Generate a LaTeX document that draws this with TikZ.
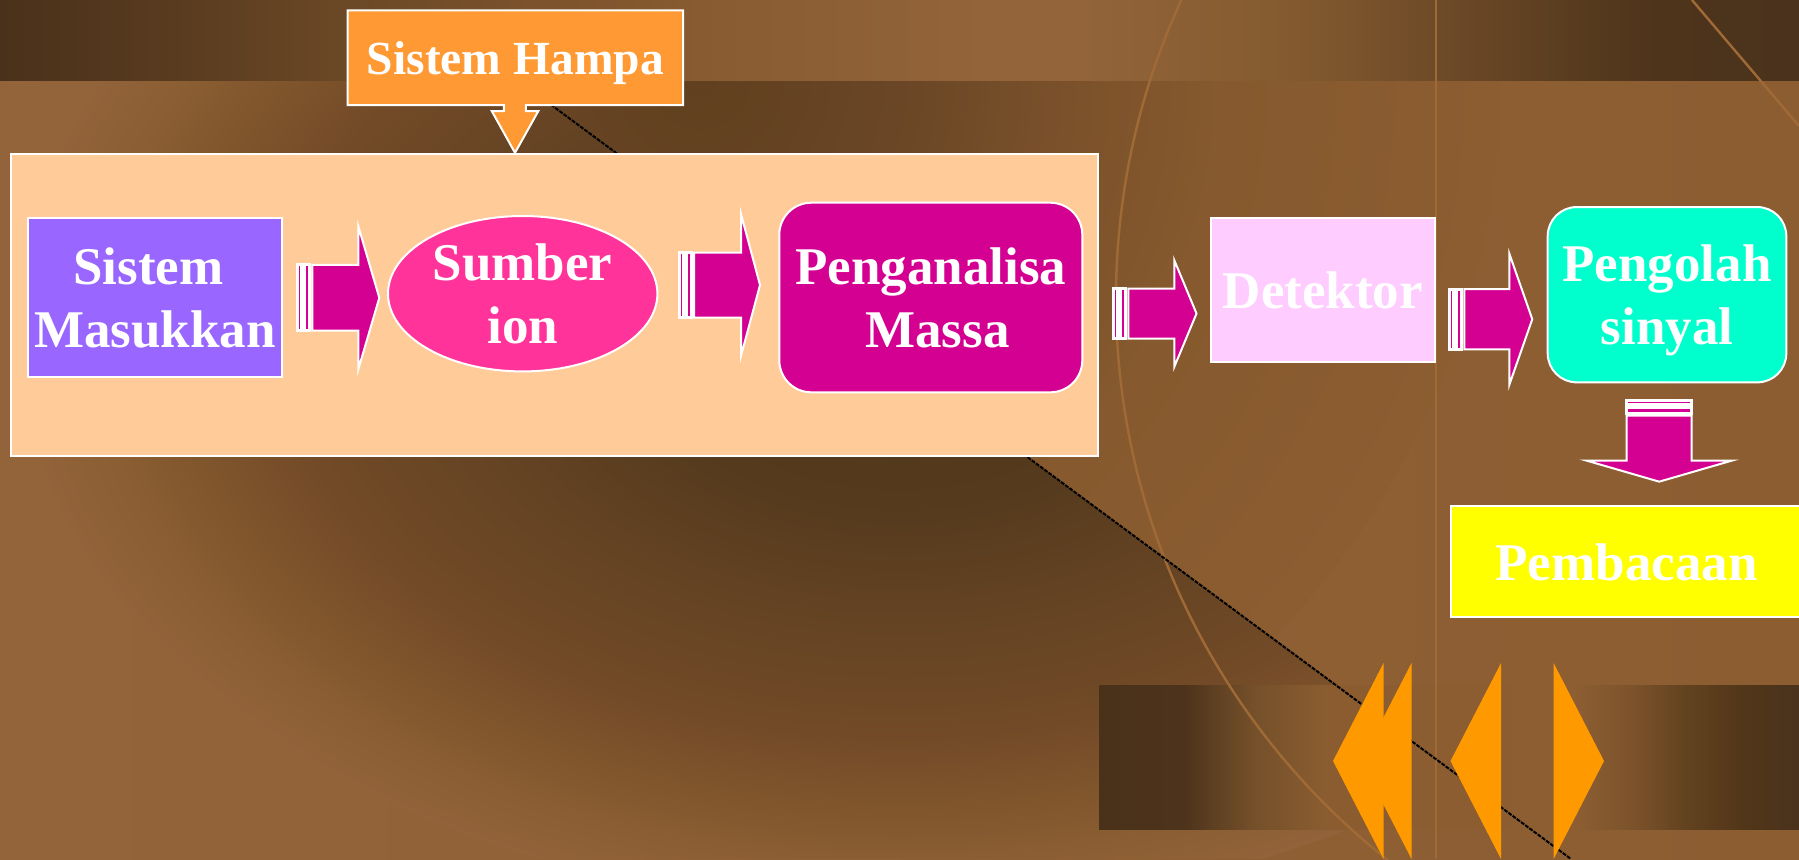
\documentclass[tikz,border=0pt]{standalone}
\usepackage{fontspec}
\setmainfont{Liberation Serif}
\usetikzlibrary{calc,shapes.geometric}

% ---------- palette ----------
\definecolor{bgLeft}{HTML}{93643A}
\definecolor{bgRight}{HTML}{8C5D31}
\definecolor{bandA}{HTML}{4A311B}
\definecolor{bandB}{HTML}{5B3D20}
\definecolor{bandC}{HTML}{6B4826}
\definecolor{bandD}{HTML}{8A5C31}
\definecolor{bandE}{HTML}{93643A}
\definecolor{bandF}{HTML}{835A2F}
\definecolor{bandG}{HTML}{6E4A28}
\definecolor{bandH}{HTML}{573B1E}
\definecolor{bandI}{HTML}{4E341B}
\definecolor{bandJ}{HTML}{4A321C}
\definecolor{footA}{HTML}{4A311A}
\definecolor{footB}{HTML}{4D331B}
\definecolor{footC}{HTML}{74502A}
\definecolor{footD}{HTML}{8A5C30}
\definecolor{footE}{HTML}{8D5E32}
\definecolor{footF}{HTML}{7C532B}
\definecolor{footG}{HTML}{62421F}
\definecolor{footH}{HTML}{523619}
\definecolor{lowA}{HTML}{4F351A}
\definecolor{lowB}{HTML}{553A1D}
\definecolor{lowC}{HTML}{644323}
\definecolor{lowD}{HTML}{724A27}
\definecolor{lowE}{HTML}{7F552C}
\definecolor{lowF}{HTML}{8C5E33}
\definecolor{lowG}{HTML}{92633A}
\definecolor{highA}{HTML}{60401E}
\definecolor{highB}{HTML}{6A4626}
\definecolor{highC}{HTML}{7D532B}
\definecolor{highD}{HTML}{86592E}
\definecolor{highE}{HTML}{8C5D31}
\definecolor{decoLine}{HTML}{A06A37}
\definecolor{cPeach}{HTML}{FFCC99}
\definecolor{cCallout}{HTML}{FF9933}
\definecolor{cMasuk}{HTML}{9966FF}
\definecolor{cSumber}{HTML}{FF3399}
\definecolor{cMag}{HTML}{D40092}
\definecolor{cDetek}{HTML}{FFCCFF}
\definecolor{cOlah}{HTML}{00FFCC}
\definecolor{cBaca}{HTML}{FFFF00}
\definecolor{cNav}{HTML}{FF9900}

% ---------- background shadings (path box = central 25bp..75bp) ----------
\pgfdeclarehorizontalshading{bandshade}{100bp}{color(0bp)=(bandA); color(25bp)=(bandA); color(30.5bp)=(bandB); color(34.5bp)=(bandC); color(45bp)=(bandD); color(52.5bp)=(bandE); color(55bp)=(bandE); color(61bp)=(bandF); color(65bp)=(bandG); color(69bp)=(bandH); color(71bp)=(bandI); color(75bp)=(bandJ); color(100bp)=(bandJ)}
\pgfdeclarehorizontalshading{footshade}{100bp}{color(0bp)=(footA); color(25bp)=(footA); color(31bp)=(footB); color(36bp)=(footC); color(41bp)=(footD); color(59bp)=(footE); color(63bp)=(footF); color(67bp)=(footG); color(71bp)=(footH); color(75bp)=(bandJ); color(100bp)=(bandJ)}
\pgfdeclareradialshading{lowshadow}{\pgfpoint{0bp}{0bp}}{color(0bp)=(lowA); color(7.5bp)=(lowB); color(12.5bp)=(lowC); color(17.5bp)=(lowD); color(20.5bp)=(lowE); color(23bp)=(lowF); color(25bp)=(lowG); color(50bp)=(lowG)}
\pgfdeclareradialshading{highshadow}{\pgfpoint{0bp}{0bp}}{color(0bp)=(highA); color(6.25bp)=(highB); color(12.5bp)=(highC); color(16.25bp)=(highD); color(25bp)=(highE); color(50bp)=(highE)}

\tikzset{
  bordered/.style={draw=white, line width=1pt},
  lbl/.style={text=white, font=\bfseries\fontsize{26.5}{31.5}\selectfont,
    align=center, text depth=0pt, inner sep=0pt, outer sep=0pt},
  arrowpart/.style={fill=cMag, draw=white, line width=1pt, line join=miter},
  stripe/.style={arrowpart, line width=1.5pt},
  decoline/.style={draw=decoLine, line width=1.2pt},
  % striped block arrow: #1 length, #2 half body, #3 half head, #4 head length
  pics/sarrow/.style n args={4}{code={
    \path[stripe] (0,-#2) rectangle (4,#2);
    \path[stripe] (7,-#2) rectangle (12.5,#2);
    \path[arrowpart] (15,-#2) -- ({#1-#4},-#2) -- ({#1-#4},-#3) -- (#1,0)
      -- ({#1-#4},#3) -- ({#1-#4},#2) -- (15,#2) -- cycle;
  }},
}

\begin{document}
\begin{tikzpicture}[x=0.5pt,y=-0.5pt]
\useasboundingbox (0,0) rectangle (1799,859);
\begin{scope}
\clip (0,0) rectangle (1799,859);

% ---------- slide background ----------
\shade[left color=bgLeft, right color=bgRight] (0,0) rectangle (1799,859);
\begin{scope}
  \clip (517.5,80) -- (1571,859) -- (0,859) -- (0,80) -- cycle;
  \shade[shading=lowshadow] (900,330) ellipse [x radius=440pt, y radius=290pt];
\end{scope}
\begin{scope}
  \clip (517.5,80) -- (1799,80) -- (1799,859) -- (1571,859) -- cycle;
  \shade[shading=highshadow] (700,80) circle [radius=400pt];
\end{scope}
\shade[shading=bandshade] (0,0) rectangle (1799,80);
\shade[shading=footshade] (1099,685) rectangle (1799,829);

\draw[decoline] (1831,299) circle [radius=357.5pt];
\draw[decoline] (1692,0) -- (1799,126);
\draw[draw=decoLine, line width=1pt] (1436,0) -- (1436,859);
\draw[black, line width=1pt, dash pattern=on 2pt off 0.6pt] (517.5,80) -- (1571,859);

% navigation buttons
\fill[cNav] (1361,761) -- (1411.5,663) -- (1411.5,859) -- cycle;
\fill[cNav] (1333,761) -- (1383.5,663) -- (1383.5,859) -- cycle;
\fill[cNav] (1450.5,761) -- (1501,663) -- (1501,859) -- cycle;
\fill[cNav] (1604,761) -- (1553.6,663) -- (1553.6,859) -- cycle;

% ---------- diagram ----------
\node[bordered, fill=cPeach, minimum width=1087.3*0.5pt, minimum height=302*0.5pt,
  inner sep=0pt, outer sep=0pt] (ms) at (554.65,305.3) {};

% vacuum system callout with its pointer onto the enclosing box
\node[minimum width=335.3*0.5pt, minimum height=94.7*0.5pt, inner sep=0pt, outer sep=0pt]
  (hampa) at (515.35,57.65) {};
\path[bordered, fill=cCallout, line join=miter]
  (hampa.north west) -- (hampa.north east) -- (hampa.south east)
  -- ($(hampa.south)+(10.4,0)$) -- ($(hampa.south)+(10.4,6)$) -- ($(hampa.south)+(23,6)$)
  -- ($(ms.north)+(-39.65,-1.5)$)
  -- ($(hampa.south)+(-23.6,6)$) -- ($(hampa.south)+(-11.6,6)$) -- ($(hampa.south)+(-11.6,0)$)
  -- (hampa.south west) -- cycle;
\node[lbl, font=\bfseries\fontsize{23.75}{28}\selectfont] (hampatext) at (hampa) {Sistem Hampa};

\node[bordered, fill=cMasuk, minimum width=254.6*0.5pt, minimum height=159*0.5pt, lbl]
  (masuk) at (155,297.2) {Sistem\hspace*{6.6pt}\\Masukkan};
\node[bordered, ellipse, fill=cSumber, minimum width=269.4*0.5pt, minimum height=155.4*0.5pt, lbl]
  (sumber) at (522.7,293.7) {Sumber\\ion};
\node[bordered, rounded corners=16pt, fill=cMag, minimum width=303*0.5pt, minimum height=189.6*0.5pt, lbl]
  (analis) at (930.8,297.5) {Penganalisa\\\hspace*{6.6pt}Massa};
\node[bordered, fill=cDetek, minimum width=223.7*0.5pt, minimum height=143.4*0.5pt, lbl]
  (detektor) at (1322.8,290) {Detektor};
\node[bordered, rounded corners=14.5pt, fill=cOlah, minimum width=238.6*0.5pt, minimum height=175.3*0.5pt, lbl]
  (olah) at (1667,294.7) {Pengolah\\sinyal};
\node[bordered, fill=cBaca, minimum width=351*0.5pt, minimum height=111.3*0.5pt, lbl]
  (baca) at (1626.5,561.7) {Pembacaan};

% striped block arrows between the stages
\pic at ($(masuk.east)+(15,0.6)$) {sarrow={82}{32.9}{71.6}{21}};
\pic at ($(sumber.east)+(21.6,-8.7)$) {sarrow={81}{32.5}{71}{19}};
\pic at ($(analis.east)+(31,16)$) {sarrow={83.2}{25}{53.3}{22.2}};
\pic at ($(detektor.east)+(14.6,29.2)$) {sarrow={83}{30.2}{65.8}{23}};
\pic[rotate=-90] at ($(olah.south)+(-7.8,18.3)$) {sarrow={81}{32.5}{72.5}{21}};

\end{scope}
\end{tikzpicture}
\end{document}
